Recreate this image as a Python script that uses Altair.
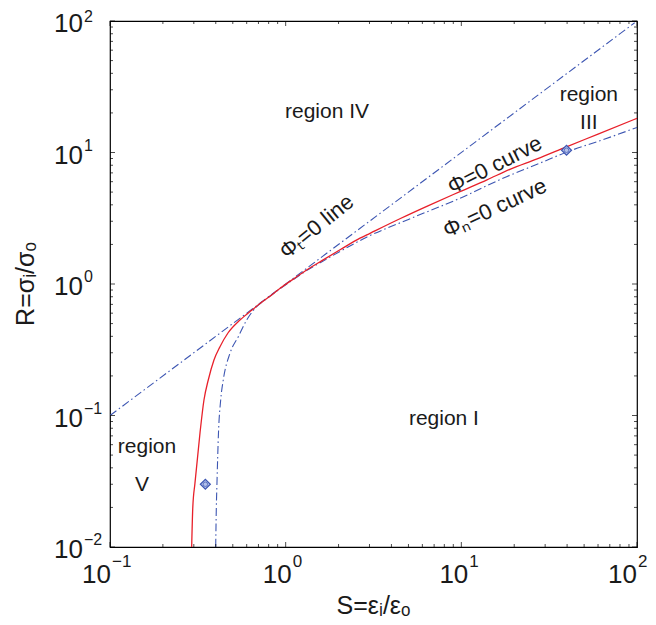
import altair as alt
import pandas as pd

# ---------------- data ----------------
red_S = [0.2917, 0.2960, 0.3046, 0.3253, 0.3427, 0.3626, 0.3907, 0.4227, 0.4693, 0.5494,
         0.6430, 0.7330, 0.8035, 0.90, 1.10, 1.315, 1.60, 2.04, 2.65, 3.02, 4.5, 6.5,
         9.82, 14.0, 18.9, 27.0, 40.0, 60.0, 100.0]
red_R = [0.0100, 0.0200, 0.0307, 0.0736, 0.1312, 0.1862, 0.2643, 0.3336, 0.4240, 0.5323,
         0.6342, 0.7296, 0.7963, 0.898, 1.085, 1.277, 1.50, 1.82, 2.23, 2.43, 3.15, 3.95,
         5.04, 6.2, 7.45, 8.95, 11.1, 13.8, 18.2]

phin_S = [0.3996, 0.4030, 0.4064, 0.4145, 0.4266, 0.4413, 0.4819, 0.5373, 0.5998, 0.6839,
          0.7795, 0.90, 1.10, 1.315, 1.60, 2.04, 2.89, 5.0, 9.82, 18.1, 28.0, 40.0, 65.0, 100.0]
phin_R = [0.0100, 0.0200, 0.0307, 0.0736, 0.1312, 0.1862, 0.2972, 0.3973, 0.5323, 0.6721,
          0.775, 0.893, 1.075, 1.265, 1.47, 1.77, 2.27, 3.10, 4.49, 6.55, 8.3, 10.1, 12.6, 15.5]

phit_S = [0.1, 97.0]
phit_R = [0.1, 97.0]

marker_S = [0.349, 39.7]
marker_R = [0.030, 10.4]

ann_text = ["region IV", "region", "III", "region", "V", "region I"]
ann_S = [1.72, 53.2, 53.2, 0.1624, 0.152, 7.96]
ann_R = [20.3, 27.4, 16.7, 0.0575, 0.0296, 0.094]

curve_text = ["Φₜ=0 line", "Φ=0 curve", "Φₙ=0 curve"]
curve_S = [1.50, 15.5, 15.5]
curve_R = [2.73, 8.03, 3.78]
curve_angle = [321, 333, 335]

x_tick_values = [0.1, 1, 10, 100]
x_tick_exps = ["−1", "0", "1", "2"]
y_tick_values = [0.01, 0.1, 1, 10, 100]
y_tick_exps = ["−2", "−1", "0", "1", "2"]

x_title = "S=εᵢ/εₒ"
y_title = "R=σᵢ/σₒ"

# ---------------- layout ----------------
W, H = 527, 526
FONT = "Liberation Sans, Arial, Helvetica, sans-serif"
RED = "#e8202a"
BLUE = "#3d56b2"
INK = "#1a1a1a"
MAJ, MIN = 5, 3
X_LABEL_SHIFT = [1, 6, 7, 0]       # horizontal placement of each x tick label's "10"
Y_EXP_DY = [-7, -7, -7, -7, -4]    # vertical placement of each y exponent (top one kept on page)

xs = alt.Scale(type="log", domain=[0.1, 100], nice=False)
ys = alt.Scale(type="log", domain=[0.01, 100], nice=False)


def minor(decades):
    return [k * 10.0 ** n for n in decades for k in range(2, 10)]


x_minor = minor([-1, 0, 1])
y_minor = minor([-2, -1, 0, 1])

df_red = pd.DataFrame({"S": red_S, "R": red_R, "i": range(len(red_S))})
df_phin = pd.DataFrame({"S": phin_S, "R": phin_R, "i": range(len(phin_S))})
df_phit = pd.DataFrame({"S": phit_S, "R": phit_R, "i": range(len(phit_S))})
df_mark = pd.DataFrame({"S": marker_S, "R": marker_R})
df_ann = pd.DataFrame({"S": ann_S, "R": ann_R, "t": ann_text})
df_curve = pd.DataFrame({"S": curve_S, "R": curve_R, "t": curve_text, "a": curve_angle})

dash = [8, 3, 1.5, 3]
X = lambda f: alt.X(f, scale=xs, axis=None)
Y = lambda f: alt.Y(f, scale=ys, axis=None)

red = alt.Chart(df_red).mark_line(color=RED, strokeWidth=1.3, clip=True,
                                  interpolate="monotone").encode(
    x=X("S:Q"), y=Y("R:Q"), order="i:Q")
phin = alt.Chart(df_phin).mark_line(color=BLUE, strokeWidth=1.1, strokeDash=dash, clip=True,
                                    interpolate="monotone").encode(
    x=X("S:Q"), y=Y("R:Q"), order="i:Q")
phit = alt.Chart(df_phit).mark_line(color=BLUE, strokeWidth=1.1, strokeDash=dash, clip=True).encode(
    x=X("S:Q"), y=Y("R:Q"), order="i:Q")

marks_d = alt.Chart(df_mark).mark_point(shape="diamond", size=100, filled=True, fill="#b3c0ea",
                                        stroke=BLUE, strokeWidth=1.2, opacity=1).encode(
    x=X("S:Q"), y=Y("R:Q"))
marks_c = alt.Chart(df_mark).mark_point(shape="circle", size=20, filled=False,
                                        color=BLUE, strokeWidth=1).encode(
    x=X("S:Q"), y=Y("R:Q"))

ann = alt.Chart(df_ann).mark_text(font=FONT, fontSize=21, color=INK).encode(
    x=X("S:Q"), y=Y("R:Q"), text="t:N")
curve_lbl = alt.Chart(df_curve).mark_text(font=FONT, fontSize=22, color=INK).encode(
    x=X("S:Q"), y=Y("R:Q"), text="t:N", angle=alt.Angle("a:Q", scale=None))


# ---------------- ticks (inside, on all four sides) ----------------
def xticks(vals, length):
    d = pd.DataFrame({"v": vals})
    b = alt.Chart(d).mark_tick(color="black", thickness=1, size=length).encode(
        x=X("v:Q"), y=alt.value(H - length / 2))
    t = alt.Chart(d).mark_tick(color="black", thickness=1, size=length).encode(
        x=X("v:Q"), y=alt.value(length / 2))
    return [b, t]


def yticks(vals, length):
    d = pd.DataFrame({"v": vals})
    l = alt.Chart(d).mark_tick(color="black", thickness=1, size=length).encode(
        y=Y("v:Q"), x=alt.value(length / 2))
    r = alt.Chart(d).mark_tick(color="black", thickness=1, size=length).encode(
        y=Y("v:Q"), x=alt.value(W - length / 2))
    return [l, r]


tick_layers = (xticks(x_tick_values, MAJ) + xticks(x_minor, MIN) +
               yticks(y_tick_values, MAJ) + yticks(y_minor, MIN))

# ---------------- tick labels: "10" + superscript exponent ----------------
label_layers = []
for v, e, off in zip(x_tick_values, x_tick_exps, X_LABEL_SHIFT):
    d = pd.DataFrame({"v": [v], "e": [e], "base": ["10"]})
    label_layers.append(alt.Chart(d).mark_text(
        font=FONT, fontSize=26, align="right", baseline="middle", dx=off, color=INK).encode(
        x=X("v:Q"), y=alt.value(H + 28), text="base:N"))
    label_layers.append(alt.Chart(d).mark_text(
        font=FONT, fontSize=17, align="left", baseline="middle", dx=off + 1, color=INK).encode(
        x=X("v:Q"), y=alt.value(H + 15), text="e:N"))

for v, e, edy in zip(y_tick_values, y_tick_exps, Y_EXP_DY):
    d = pd.DataFrame({"v": [v], "e": [e], "base": ["10"]})
    label_layers.append(alt.Chart(d).mark_text(
        font=FONT, fontSize=26, align="right", baseline="middle", dy=3, color=INK).encode(
        y=Y("v:Q"), x=alt.value(-27), text="base:N"))
    label_layers.append(alt.Chart(d).mark_text(
        font=FONT, fontSize=16, align="left", baseline="middle", dy=edy, color=INK).encode(
        y=Y("v:Q"), x=alt.value(-26), text="e:N"))

# ---------------- axis titles ----------------
df_t = pd.DataFrame({"xt": [x_title], "yt": [y_title]})
xt = alt.Chart(df_t).mark_text(font=FONT, fontSize=25, align="center", baseline="middle",
                               color=INK).encode(
    x=alt.value(W / 2), y=alt.value(H + 59), text="xt:N")
yt = alt.Chart(df_t).mark_text(font=FONT, fontSize=25, align="center", baseline="middle",
                               angle=270, color=INK).encode(
    x=alt.value(-84), y=alt.value(H / 2), text="yt:N")

chart = alt.layer(
    phit, phin, red, marks_d, marks_c, ann, curve_lbl,
    *tick_layers, *label_layers, xt, yt
).properties(
    width=W, height=H,
    autosize=alt.AutoSizeParams(type="none"),
    padding={"left": 102, "top": 13, "right": 11, "bottom": 78},
).configure_view(stroke="black", strokeWidth=1.2)

chart.save("out.html", embed_options={"renderer": "svg", "actions": False})
